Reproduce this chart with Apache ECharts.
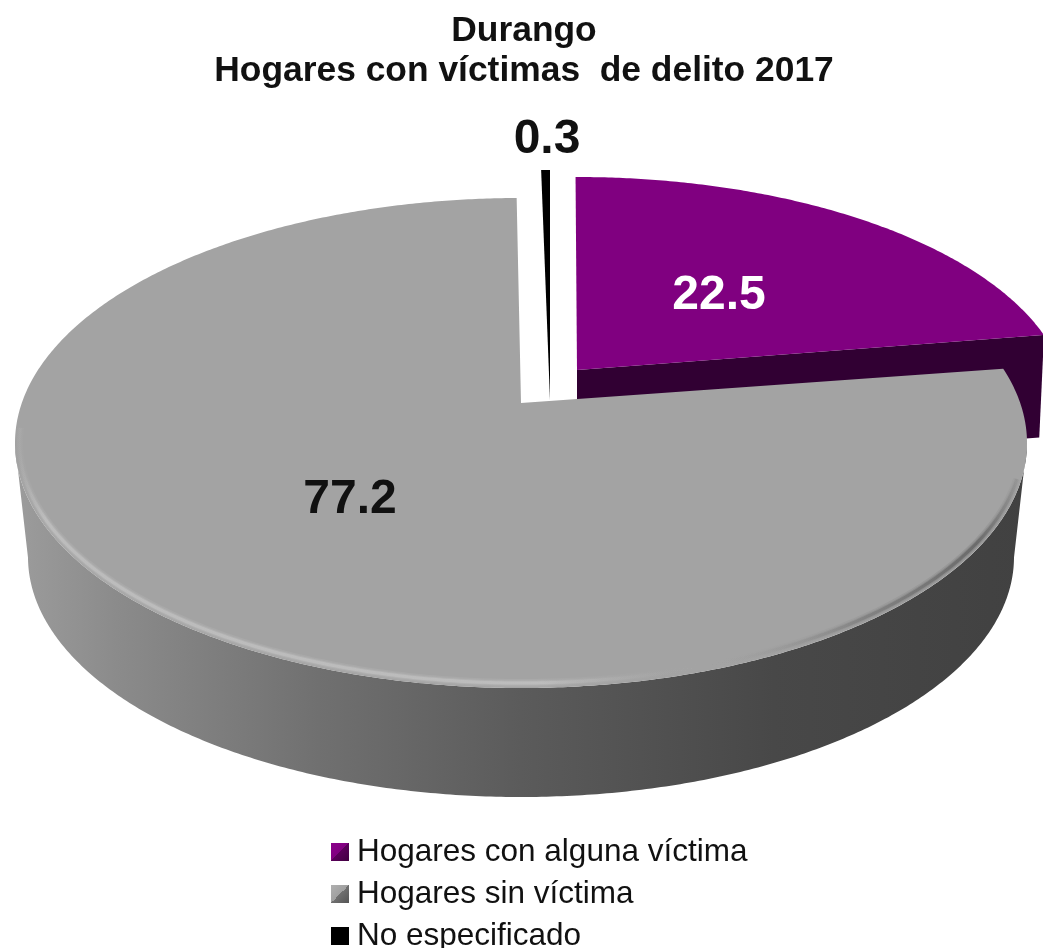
<!DOCTYPE html>
<html>
<head>
<meta charset="utf-8">
<title>Durango</title>
<script src="https://cdn.jsdelivr.net/npm/echarts@6/dist/echarts.min.js"></script>
<style>
  html, body { margin: 0; padding: 0; background: #fff; }
  #chart { width: 1043px; height: 948px; }
</style>
</head>
<body>
<div id="chart"></div>
<script>
const categories = ["Hogares con alguna víctima", "Hogares sin víctima", "No especificado"];
const values = [22.5, 77.2, 0.3];

const FONT = '"Liberation Sans", Arial, sans-serif';
const K = 0.163; // perspective shift of the pie centre

// where each exploded slice sits on the page
const sliceGeo = [
  { cx: 577, cy: 407.6, a: 492, b: 230.6, k: K, rot: -0.2, base: { cx: 577, cy: 510, a: 487, b: 230 } },
  { cx: 521, cy: 443, a: 506, b: 245, k: K, rot: 0.5, base: { cx: 521, cy: 557, a: 493, b: 240 } },
  { cx: 550, cy: 415, a: 500, b: 245, k: 0.0612, rot: 0 }
];
const labelPos = [[719, 296], [350, 500], [547, 140]];
const labelColor = ["#fff", "#111", "#111"];
const topColor = ["#800080", "#a3a3a3", "#000"];

function rim(g, deg) {
  const t = deg * Math.PI / 180;
  const s = Math.sin(t), c = Math.cos(t);
  const k = g.k === undefined ? K : g.k;
  const d = 1 + k * c;
  return [g.cx + g.a * s * Math.sqrt(1 - k * k) / d, g.cy - g.b * (c + k) / d];
}

function arc(g, from, to) {
  const pts = [];
  const n = Math.max(2, Math.ceil(Math.abs(to - from) * 2));
  for (let i = 0; i <= n; i++) pts.push(rim(g, from + (to - from) * i / n));
  return pts;
}

function renderSlice(idx) {
  return function (params, api) {
    const total = values.reduce((s, v) => s + v, 0);
    let start = 0;
    for (let i = 0; i < idx; i++) start += values[i] / total * 360;
    const end = start + api.value(0) / total * 360;
    const g = sliceGeo[idx];
    const from = start + g.rot, to = end + g.rot;
    const apex = [g.cx, g.cy - g.b * g.k];
    const top = arc(g, from, to);
    const children = [];

    if (idx === 0) {
      // cut face, mostly hidden behind the big slice
      const e = rim(g, to);
      const be = rim(g.base, to);
      const ba = [g.base.cx, g.base.cy - g.base.b * K];
      children.push({ type: 'polygon', shape: { points: [apex, e, be, ba] }, style: { fill: '#310033' } });
    }
    if (idx === 1) {
      const bottom = arc(g.base, from, to);
      const iMaxT = top.reduce((m, p, i) => p[0] > top[m][0] ? i : m, 0);
      const iMinT = top.reduce((m, p, i) => p[0] < top[m][0] ? i : m, 0);
      const iMaxB = bottom.reduce((m, p, i) => p[0] > bottom[m][0] ? i : m, 0);
      const iMinB = bottom.reduce((m, p, i) => p[0] < bottom[m][0] ? i : m, 0);
      const side = top.slice(iMaxT, iMinT + 1).concat(bottom.slice(iMaxB, iMinB + 1).reverse());
      children.push({
        type: 'polygon',
        shape: { points: side },
        style: {
          fill: new echarts.graphic.LinearGradient(15, 0, 1027, 0, [
            { offset: 0, color: '#9c9c9c' },
            { offset: 0.1, color: '#8b8b8b' },
            { offset: 0.3, color: '#707070' },
            { offset: 0.5, color: '#5b5b5b' },
            { offset: 0.75, color: '#484848' },
            { offset: 1, color: '#414141' }
          ], true)
        }
      });
    }

    children.push({
      type: 'polygon',
      shape: { points: [apex].concat(top) },
      style: { fill: topColor[idx] }
    });

    if (idx === 1) {
      // soft bevel along the front edge of the top face, faded at both ends
      const inner = { cx: g.cx, cy: g.cy - 1, a: g.a - 4, b: g.b - 4, k: g.k };
      const edge = arc(inner, 108, 264);
      const bevel = (w, alpha) => ({
        type: 'polyline',
        shape: { points: edge },
        style: {
          fill: 'none',
          lineWidth: w,
          stroke: new echarts.graphic.LinearGradient(15, 0, 1027, 0, [
            { offset: 0, color: 'rgba(205,205,205,0)' },
            { offset: 0.03, color: 'rgba(205,205,205,' + alpha + ')' },
            { offset: 0.52, color: 'rgba(205,205,205,' + alpha + ')' },
            { offset: 0.68, color: 'rgba(163,163,163,0)' },
            { offset: 0.84, color: 'rgba(90,90,90,' + alpha * 0.7 + ')' },
            { offset: 0.95, color: 'rgba(70,70,70,' + alpha + ')' },
            { offset: 1, color: 'rgba(70,70,70,0)' }
          ], true)
        }
      });
      children.push(bevel(8, 0.14), bevel(5, 0.22), bevel(3, 0.4));
    }

    children.push({
      type: 'text',
      style: {
        text: api.value(0).toFixed(1),
        x: labelPos[idx][0],
        y: labelPos[idx][1],
        fill: labelColor[idx],
        font: 'bold 48px ' + FONT,
        align: 'center',
        verticalAlign: 'middle'
      }
    });
    return { type: 'group', children: children };
  };
}

const legendIcons = [
  new echarts.graphic.LinearGradient(0, 0, 1, 1, [
    { offset: 0, color: '#8a008a' }, { offset: 0.5, color: '#800080' },
    { offset: 0.5, color: '#5a005a' }, { offset: 1, color: '#400040' }
  ]),
  new echarts.graphic.LinearGradient(0, 0, 1, 1, [
    { offset: 0, color: '#b0b0b0' }, { offset: 0.5, color: '#a0a0a0' },
    { offset: 0.5, color: '#707070' }, { offset: 1, color: '#555' }
  ]),
  '#000'
];

// drawn back to front: the big slice covers the others
const zOrder = [2, 4, 3];

const chart = echarts.init(document.getElementById('chart'), null, { renderer: 'canvas' });
chart.setOption({
  animation: false,
  backgroundColor: '#fff',
  title: {
    text: 'Durango\nHogares con víctimas  de delito 2017',
    left: 519,
    top: 6,
    textAlign: 'center',
    textStyle: { fontFamily: FONT, fontWeight: 'bold', fontSize: 35.4, lineHeight: 40, color: '#111' }
  },
  legend: {
    orient: 'vertical',
    left: 331,
    top: 836,
    height: 130,
    padding: 0,
    itemWidth: 18,
    itemHeight: 18,
    itemGap: 10,
    icon: 'rect',
    data: categories.map((c, i) => ({ name: c, itemStyle: { color: legendIcons[i] } })),
    textStyle: { fontFamily: FONT, fontSize: 31.5, lineHeight: 28, color: '#111', padding: [0, 0, 0, 3] }
  },
  series: categories.map((c, i) => ({
    type: 'custom',
    name: c,
    coordinateSystem: 'none',
    z: zOrder[i],
    silent: true,
    itemStyle: { color: topColor[i] },
    renderItem: renderSlice(i),
    data: [[values[i]]]
  }))
});
</script>
</body>
</html>
